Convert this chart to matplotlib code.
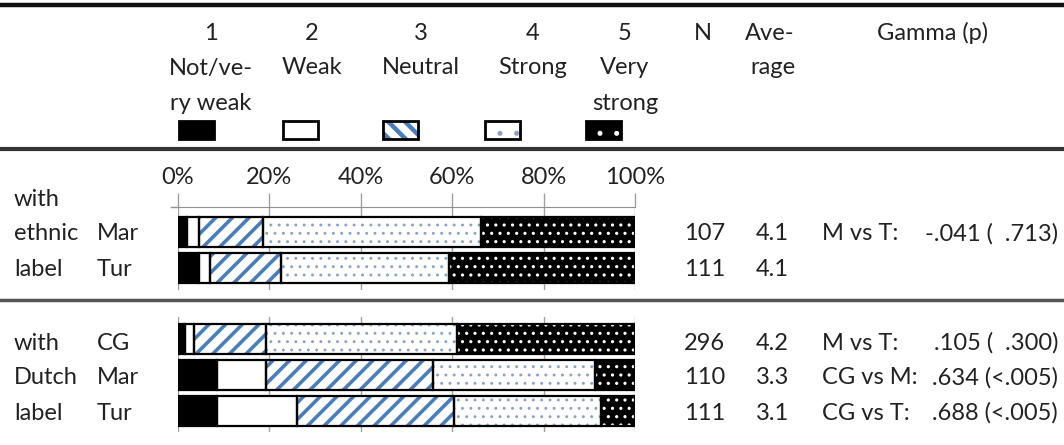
import matplotlib.pyplot as plt
from matplotlib.patches import Rectangle

plt.rcParams["font.family"] = ["Lato", "DejaVu Sans"]

# shares (%) per answer category, one value per row
ethnic_rows = ["Mar", "Tur"]
ethnic_cat1 = [2.0, 4.7]
ethnic_cat2 = [2.5, 2.2]
ethnic_cat3 = [14.0, 15.6]
ethnic_cat4 = [47.7, 36.7]
ethnic_cat5 = [33.8, 40.8]
ethnic_n = ["107", "111"]
ethnic_avg = ["4.1", "4.1"]
ethnic_cmp = ["M vs T:", ""]
ethnic_gamma = ["-.041 (  .713)", ""]

dutch_rows = ["CG", "Mar", "Tur"]
dutch_cat1 = [1.5, 8.5, 8.5]
dutch_cat2 = [2.1, 10.7, 17.6]
dutch_cat3 = [15.7, 36.5, 34.3]
dutch_cat4 = [41.8, 35.5, 32.2]
dutch_cat5 = [38.9, 8.8, 7.4]
dutch_n = ["296", "110", "111"]
dutch_avg = ["4.2", "3.3", "3.1"]
dutch_cmp = ["M vs T:", "CG vs M:", "CG vs T:"]
dutch_gamma = [".105 (  .300)", ".634 (<.005)", ".688 (<.005)"]

cat_numbers = ["1", "2", "3", "4", "5"]
cat_names = [["Not/ve-", "ry weak"], ["Weak"], ["Neutral"], ["Strong"],
             ["Very", "strong"]]
ticks = [0, 20, 40, 60, 80, 100]

# face, hatch colour, hatch, hatch linewidth (bars)
styles = [
    ("black", "black", None, 1.0),
    ("white", "white", None, 1.0),
    ("white", "#4a7ebb", "//", 2.6),
    ("white", "#8aa2c4", "..", 0.9),
    ("black", "white", "..", 1.1),
]
# the little legend boxes use coarser patterns
swatch_styles = [
    ("black", "black", None, 1.0),
    ("white", "white", None, 1.0),
    ("white", "#4a7ebb", "\\\\", 3.2),
    ("white", "#8aa2c4", ".", 1.2),
    ("black", "white", ".", 1.2),
]

TXT = "#222222"
FS = 17
W, H = 1064, 445

fig = plt.figure(figsize=(W / 100, H / 100), dpi=100)
bg = fig.add_axes([0, 0, 1, 1])
bg.set_xlim(0, W)
bg.set_ylim(H, 0)
bg.axis("off")


def fig_rect(x0, x1, y0, y1):
    return [x0 / W, (H - y1) / H, (x1 - x0) / W, (y1 - y0) / H]


def make_patch_style(p, face, hcol, hatch, hlw):
    p.set_facecolor(face)
    p.set_edgecolor(hcol)
    p.set_linewidth(0)
    if hatch:
        p.set_hatch(hatch)
        if hasattr(p, "set_hatch_linewidth"):
            p.set_hatch_linewidth(hlw)


def stacked(ax, cats):
    rows = range(len(cats[0]))
    left = [0.0] * len(cats[0])
    for vals, (face, hcol, hatch, hlw) in zip(cats, styles):
        with plt.rc_context({"hatch.linewidth": hlw}):
            bars = ax.barh(rows, vals, left=left, height=0.83, zorder=2)
        for p in bars:
            make_patch_style(p, face, hcol, hatch, hlw)
        ax.barh(rows, vals, left=left, height=0.83, fill=False,
                edgecolor="black", linewidth=1.6, zorder=3)
        left = [a + b for a, b in zip(left, vals)]


def txt(x, y, s, ha="left"):
    bg.text(x, y, s, ha=ha, va="center_baseline", fontsize=FS, color=TXT)


# upper panel
ax1 = fig.add_axes(fig_rect(178, 635, 207, 290))
stacked(ax1, [ethnic_cat1, ethnic_cat2, ethnic_cat3, ethnic_cat4, ethnic_cat5])
ax1.set_ylim(1 + 22 / 36, -25 / 36)
ax1.set_xlim(0, 100)
ax1.xaxis.tick_top()
ax1.set_xticks(ticks)
ax1.set_xticklabels([f"{t}%" for t in ticks], fontsize=FS, color=TXT)
ax1.tick_params(axis="x", length=10, width=1, color="#a0a0a0", pad=4)
ax1.set_yticks([])
ax1.grid(axis="x", color="#a0a0a0", linewidth=1)
ax1.set_axisbelow(True)
for s in ["left", "right", "bottom"]:
    ax1.spines[s].set_visible(False)
ax1.spines["top"].set_color("#909090")
ax1.patch.set_alpha(0)
bg.plot([171, 178], [207, 207], color="#909090", lw=1)

# lower panel
ax2 = fig.add_axes(fig_rect(178, 635, 317, 432))
stacked(ax2, [dutch_cat1, dutch_cat2, dutch_cat3, dutch_cat4, dutch_cat5])
ax2.set_ylim(2 + 21 / 36, -22 / 36)
ax2.set_xlim(0, 100)
ax2.set_xticks(ticks)
ax2.set_xticklabels([])
ax2.tick_params(axis="x", length=0)
ax2.set_yticks([])
ax2.grid(axis="x", color="#a0a0a0", linewidth=1)
ax2.set_axisbelow(True)
for s in ax2.spines.values():
    s.set_visible(False)
ax2.patch.set_alpha(0)

# rules
bg.plot([0, W], [5, 5], color="#111111", lw=3.2)
bg.plot([0, W], [149, 149], color="#333333", lw=3)
bg.plot([0, W], [300, 300], color="#555555", lw=2.5)

# header
col_x = [211, 312, 421, 533, 625]
for x, num, name in zip(col_x, cat_numbers, cat_names):
    txt(x, 31, num, "center")
    for i, line in enumerate(name):
        txt(x, 66 + 35 * i, line, "center")
txt(703, 31, "N", "center")
txt(745, 31, "Ave-")
txt(750, 66, "rage")
txt(933, 31, "Gamma (p)", "center")

# legend swatches
sw_x = [179, 283, 383, 485, 586]
for x, (face, hcol, hatch, hlw) in zip(sw_x, swatch_styles):
    with plt.rc_context({"hatch.linewidth": hlw}):
        r = Rectangle((x, 121), 35, 18)
    make_patch_style(r, face, hcol, hatch, hlw)
    bg.add_patch(r)
    bg.add_patch(Rectangle((x, 121), 35, 18, fill=False, edgecolor="black",
                           linewidth=2))

# row labels and statistics
txt(14, 197, "with")
txt(14, 232, "ethnic")
txt(14, 267, "label")
txt(14, 341, "with")
txt(14, 376, "Dutch")
txt(14, 411, "label")

groups = [
    ([232, 267], ethnic_rows, ethnic_n, ethnic_avg, ethnic_cmp, ethnic_gamma),
    ([341, 376, 411], dutch_rows, dutch_n, dutch_avg, dutch_cmp, dutch_gamma),
]
for ys, rows, ns, avgs, cmps, gammas in groups:
    for y, r, n, a, c, g in zip(ys, rows, ns, avgs, cmps, gammas):
        txt(97, y, r)
        txt(725, y, n, "right")
        txt(789, y, a, "right")
        txt(822, y, c)
        txt(1058, y, g, "right")

fig.savefig("out.png", dpi=100)
